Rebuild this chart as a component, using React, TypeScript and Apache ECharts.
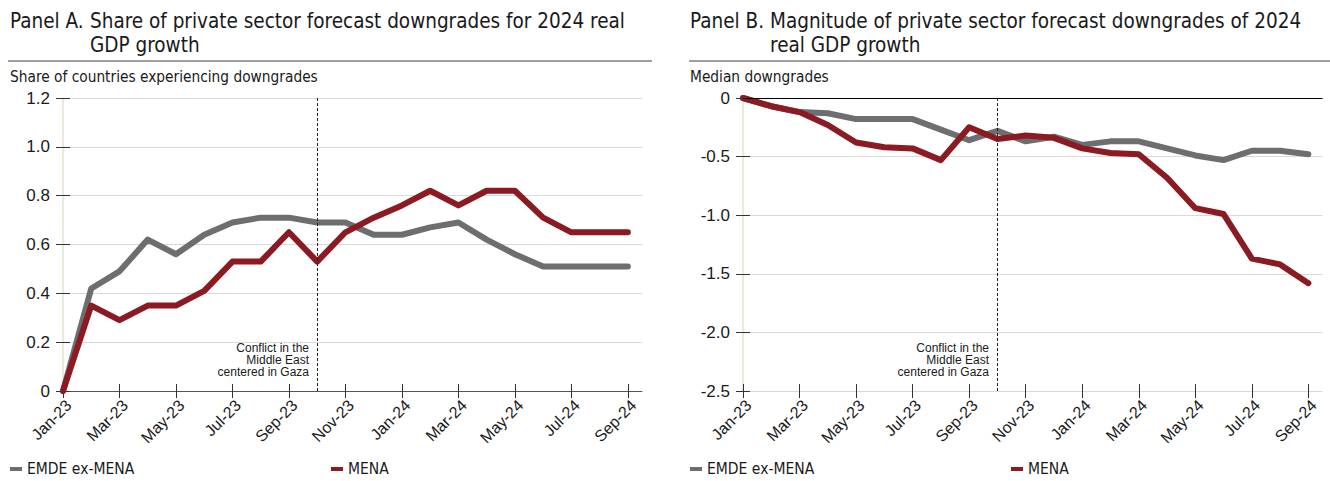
import React, { useEffect, useRef } from "react";
import * as echarts from "echarts";

const months = [
  "Jan-23", "Feb-23", "Mar-23", "Apr-23", "May-23", "Jun-23", "Jul-23", "Aug-23", "Sep-23", "Oct-23", "Nov-23", "Dec-23",
  "Jan-24", "Feb-24", "Mar-24", "Apr-24", "May-24", "Jun-24", "Jul-24", "Aug-24", "Sep-24",
];

const emdeShare = [0, 0.42, 0.49, 0.62, 0.56, 0.64, 0.69, 0.71, 0.71, 0.69, 0.69, 0.64, 0.64, 0.67, 0.69, 0.62, 0.56, 0.51, 0.51, 0.51, 0.51];
const menaShare = [0, 0.35, 0.29, 0.35, 0.35, 0.41, 0.53, 0.53, 0.65, 0.53, 0.65, 0.71, 0.76, 0.82, 0.76, 0.82, 0.82, 0.71, 0.65, 0.65, 0.65];

const emdeMagnitude = [0, -0.07, -0.12, -0.13, -0.18, -0.18, -0.18, -0.27, -0.36, -0.28, -0.37, -0.33, -0.4, -0.37, -0.37, -0.43, -0.49, -0.53, -0.45, -0.45, -0.48];
const menaMagnitude = [0, -0.07, -0.12, -0.23, -0.38, -0.42, -0.43, -0.53, -0.25, -0.35, -0.32, -0.34, -0.43, -0.47, -0.48, -0.68, -0.94, -0.99, -1.37, -1.42, -1.58];

const conflictMonth = "Oct-23";
const seriesNames = ["EMDE ex-MENA", "MENA"];

const GRAY = "#6d6e70";
const RED = "#8b1a22";
const TEXT = "#1a1a1a";
const NARROW = "'Liberation Sans Narrow', 'DejaVu Sans Condensed', 'Arial Narrow', sans-serif";
const ARIAL = "'Liberation Sans', Arial, sans-serif";

const tickIdx = months.map((_, i) => i).filter((i) => i % 2 === 0);
const toPairs = (arr: number[]) => arr.map((v, i) => [i, v]);
const fmtY = (v: number) => (Math.abs(v) < 1e-9 ? "0" : v.toFixed(1));

function xAxes(gridIndex: number, lineColor: string, showLine: boolean) {
  const base = {
    type: "value",
    gridIndex,
    min: 0,
    max: 20.5,
    position: "bottom",
    splitLine: { show: false },
  };
  return [
    {
      ...base,
      axisLine: { show: showLine, onZero: false, lineStyle: { color: lineColor, width: 1 } },
      axisTick: { show: true, inside: false, length: 7, customValues: tickIdx, lineStyle: { color: "#333", width: 1 } },
      axisLabel: {
        show: true,
        customValues: tickIdx,
        rotate: 45,
        margin: 6,
        verticalAlign: "top",
        fontFamily: ARIAL,
        fontSize: 16,
        color: TEXT,
        formatter: (v: number) => months[Math.round(v)] ?? "",
      },
    },
    {
      ...base,
      axisLine: { show: false, onZero: false },
      axisTick: { show: true, inside: true, length: 7, customValues: tickIdx, lineStyle: { color: "#333", width: 1 } },
      axisLabel: { show: false },
    },
  ];
}

function yAxes(gridIndex: number, min: number, max: number, interval: number) {
  const base = { type: "value", gridIndex, min, max, interval, position: "left" };
  return [
    {
      ...base,
      axisLine: { show: true, onZero: false, lineStyle: { color: "#e3e3d3", width: 1.5 } },
      axisTick: { show: true, inside: false, length: 7, lineStyle: { color: "#333", width: 1 } },
      axisLabel: { show: true, margin: 13, fontFamily: ARIAL, fontSize: 17, color: TEXT, formatter: fmtY },
      splitLine: { show: true, lineStyle: { color: "#d9d9d9", width: 1 } },
    },
    {
      ...base,
      axisLine: { show: false, onZero: false },
      axisTick: { show: true, inside: true, length: 7, lineStyle: { color: "#333", width: 1 } },
      axisLabel: { show: false },
      splitLine: { show: false },
    },
  ];
}

function lineSeries(name: string, data: number[], color: string, xIdx: number, yIdx: number, extra: any = {}) {
  return {
    type: "line",
    name,
    xAxisIndex: xIdx,
    yAxisIndex: yIdx,
    data: toPairs(data),
    showSymbol: false,
    symbol: "none",
    lineStyle: { color, width: 6, cap: "round", join: "round" },
    itemStyle: { color },
    ...extra,
  };
}

const conflictX = months.indexOf(conflictMonth);

function dashedMark(extraData: any[] = []) {
  return {
    markLine: {
      silent: true,
      symbol: "none",
      label: { show: false },
      lineStyle: { color: "#222", type: [3, 2], width: 1 },
      data: [{ xAxis: conflictX }, ...extraData],
    },
  };
}

function titleText(x: number, y: number, text: string, size = 20.5) {
  return {
    type: "text",
    x,
    y,
    style: { text, fill: TEXT, font: `${size}px ${NARROW}`, verticalAlign: "middle", align: "left" },
    silent: true,
  };
}

function annotation(xRight: number) {
  return {
    type: "text",
    x: xRight,
    y: 342,
    style: {
      text: "Conflict in the\nMiddle East\ncentered in Gaza",
      fill: TEXT,
      font: `12px ${ARIAL}`,
      lineHeight: 12,
      align: "right",
      verticalAlign: "top",
    },
    silent: true,
  };
}

function legendItem(name: string, left: number, color: string) {
  return {
    data: [{ name, itemStyle: { color } }],
    left,
    top: 460,
    padding: 0,
    icon: "rect",
    itemWidth: 12,
    itemHeight: 4,
    itemGap: 0,
    selectedMode: false,
    textStyle: { fontFamily: NARROW, fontSize: 15.5, color: TEXT, lineHeight: 18 },
  };
}

export default function App() {
  const ref = useRef<HTMLDivElement>(null);
  useEffect(() => {
    if (!ref.current) return;
    const chart = echarts.init(ref.current, null, { renderer: "svg" });
    const option: any = {
      animation: false,
      backgroundColor: "#ffffff",
      grid: [
        { left: 63, top: 98, right: 688, bottom: 90, containLabel: false },
        { left: 743, top: 98, right: 7.5, bottom: 90, containLabel: false },
      ],
      xAxis: [...xAxes(0, "#555", true), ...xAxes(1, "#d9d9d9", false)],
      yAxis: [...yAxes(0, 0, 1.2, 0.2), ...yAxes(1, -2.5, 0, 0.5)],
      legend: [
        legendItem(seriesNames[0], 10, GRAY),
        legendItem(seriesNames[1], 331, RED),
        legendItem(seriesNames[0], 690, GRAY),
        legendItem(seriesNames[1], 1011, RED),
      ],
      series: [
        lineSeries(seriesNames[0], emdeShare, GRAY, 0, 0),
        lineSeries(seriesNames[1], menaShare, RED, 0, 0, dashedMark()),
        lineSeries(seriesNames[0], emdeMagnitude, GRAY, 2, 2),
        lineSeries(
          seriesNames[1],
          menaMagnitude,
          RED,
          2,
          2,
          dashedMark([{ yAxis: 0, lineStyle: { color: "#000", type: "solid", width: 1.2 } }])
        ),
      ],
      graphic: [
        titleText(10, 21, "Panel A."),
        titleText(90, 21, "Share of private sector forecast downgrades for 2024 real"),
        titleText(90, 45, "GDP growth"),
        titleText(690, 21, "Panel B."),
        titleText(770, 21, "Magnitude of private sector forecast downgrades of 2024"),
        titleText(770, 45, "real GDP growth"),
        { type: "line", shape: { x1: 8, y1: 61, x2: 652, y2: 61 }, style: { stroke: "#808080", lineWidth: 1.5 }, silent: true },
        { type: "line", shape: { x1: 689, y1: 61, x2: 1330, y2: 61 }, style: { stroke: "#808080", lineWidth: 1.5 }, silent: true },
        titleText(10, 77, "Share of countries experiencing downgrades", 15.3),
        titleText(690, 77, "Median downgrades", 15.3),
        annotation(309),
        annotation(989),
      ],
    };
    chart.setOption(option);
    return () => chart.dispose();
  }, []);
  return (
    <div
      ref={ref}
      style={{ position: "fixed", left: 0, top: 0, width: 1330, height: 481, background: "#fff" }}
    />
  );
}
